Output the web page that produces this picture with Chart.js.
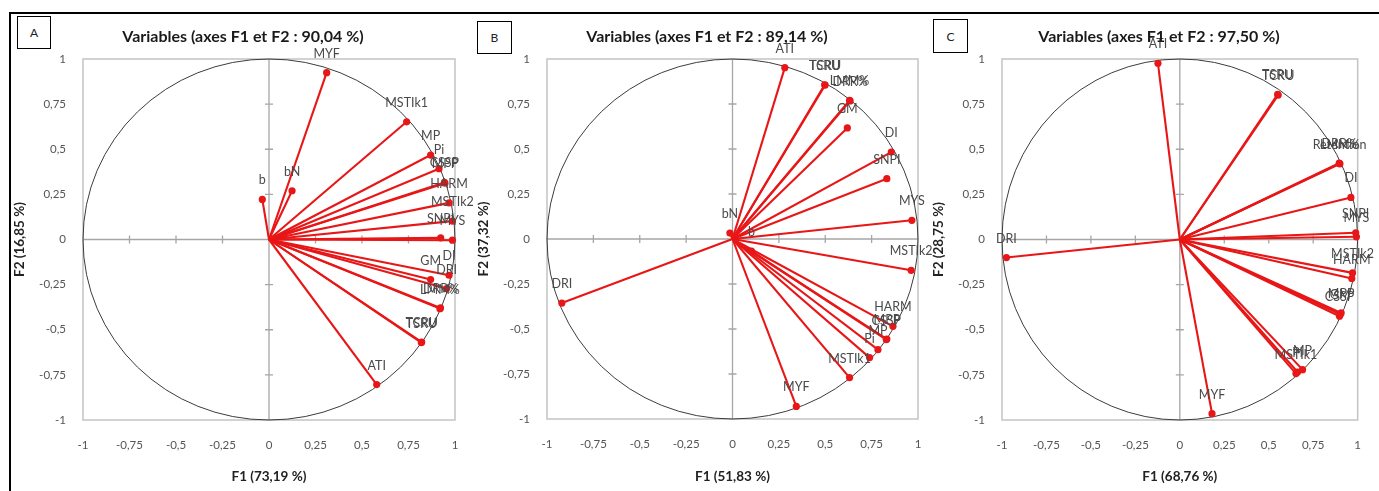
<!DOCTYPE html>
<html>
<head>
<meta charset="utf-8">
<script src="https://cdn.jsdelivr.net/npm/chart.js@4.4.1/dist/chart.umd.min.js"></script>
<style>
html,body{margin:0;padding:0;background:#fff;}
body{width:1379px;height:491px;position:relative;overflow:hidden;font-family:Lato,'Liberation Sans',sans-serif;}
.frameTop{position:absolute;left:9px;top:12px;width:1370px;height:2px;background:#000;}
.frameLeft{position:absolute;left:9px;top:12px;width:2px;height:479px;background:#000;}
.tag{position:absolute;border:1.5px solid #000;background:#fff;font-size:12px;color:#222;display:flex;align-items:center;justify-content:center;box-sizing:border-box;}
canvas{position:absolute;top:0;}
</style>
</head>
<body>
<div class="frameTop"></div>
<div class="frameLeft"></div>
<canvas id="cA"></canvas>
<canvas id="cB"></canvas>
<canvas id="cC"></canvas>
<div class="tag" style="left:17px;top:16px;width:34px;height:33px;">A</div>
<div class="tag" style="left:477px;top:21px;width:35px;height:33px;">B</div>
<div class="tag" style="left:933px;top:19px;width:35px;height:34px;">C</div>
<script>
// ---- Data ----
const tickValues = [-1, -0.75, -0.5, -0.25, 0, 0.25, 0.5, 0.75, 1];
const tickLabels = ['-1', '-0,75', '-0,5', '-0,25', '0', '0,25', '0,5', '0,75', '1'];

const titles = ['Variables (axes F1 et F2 : 90,04 %)', 'Variables (axes F1 et F2 : 89,14 %)', 'Variables (axes F1 et F2 : 97,50 %)'];
const xTitles = ['F1 (73,19 %)', 'F1 (51,83 %)', 'F1 (68,76 %)'];
const yTitles = ['F2 (16,85 %)', 'F2 (37,32 %)', 'F2 (28,75 %)'];

const varsA = ['b','bN','MYF','MSTIk1','MP','Pi','CSSP','MPP','HARM','MSTIk2','SNPI','MYS','DI','GM','DRI','LMM%','DRR%','TSRU','TCRU','ATI'];
const f1A = [-0.036,0.124,0.31,0.74,0.869,0.914,0.943,0.946,0.968,0.986,0.923,0.986,0.968,0.869,0.955,0.919,0.922,0.819,0.821,0.579];
const f2A = [0.222,0.27,0.924,0.652,0.468,0.392,0.316,0.312,0.203,0.102,0.009,-0.004,-0.198,-0.222,-0.272,-0.383,-0.379,-0.571,-0.568,-0.804];

const varsB = ['ATI','TSRU','TCRU','LMM%','DRR%','GM','DI','SNPI','MYS','bN','b','MSTIk2','HARM','CSSP','MPP','MP','Pi','MSTIk1','MYF','DRI'];
const f1B = [0.282,0.497,0.499,0.631,0.634,0.619,0.856,0.832,0.967,-0.014,0.102,0.963,0.865,0.829,0.832,0.784,0.739,0.631,0.344,-0.92];
const f2B = [0.952,0.857,0.855,0.770,0.767,0.617,0.483,0.335,0.104,0.033,-0.067,-0.174,-0.485,-0.559,-0.556,-0.615,-0.659,-0.770,-0.93,-0.356];

const varsC = ['ATI','TSRU','TCRU','Retention','LMM%','DRR%','DI','SNPI','MYS','MSTIk2','HARM','MPP','CSSP','GM','MP','Pi','MSTIk1','MYF','DRI'];
const f1C = [-0.123,0.55,0.553,0.898,0.9,0.896,0.962,0.989,0.993,0.971,0.967,0.907,0.898,0.902,0.69,0.662,0.653,0.181,-0.975];
const f2C = [0.976,0.804,0.8,0.421,0.419,0.423,0.233,0.037,0.015,-0.185,-0.216,-0.407,-0.425,-0.415,-0.721,-0.734,-0.743,-0.965,-0.1];

// ---- Rendering ----
const RED = 'rgb(232,22,22)';
const FONT = "Lato, 'Liberation Sans', sans-serif";
const YW = 72;

const pcaPlugin = {
  id: 'pca',
  beforeDatasetsDraw(chart) {
    const {ctx, chartArea: a, scales: {x, y}} = chart;
    const cx = x.getPixelForValue(0), cy = y.getPixelForValue(0);
    const rx = x.getPixelForValue(1) - cx, ry = cy - y.getPixelForValue(1);
    ctx.save();
    ctx.strokeStyle = '#c4c4c4';
    ctx.lineWidth = 1.5;
    ctx.strokeRect(a.left, a.top, a.right - a.left, a.bottom - a.top);
    ctx.strokeStyle = '#a6a6a6';
    ctx.lineWidth = 1.3;
    ctx.beginPath();
    ctx.moveTo(a.left, cy); ctx.lineTo(a.right, cy);
    ctx.moveTo(cx, a.top); ctx.lineTo(cx, a.bottom);
    tickValues.forEach(v => {
      if (Math.abs(v) === 1 || v === 0) return;
      const px = x.getPixelForValue(v), py = y.getPixelForValue(v);
      ctx.moveTo(px, cy - 4); ctx.lineTo(px, cy + 4);
      ctx.moveTo(cx - 4, py); ctx.lineTo(cx + 4, py);
    });
    ctx.stroke();
    ctx.strokeStyle = '#3c3c3c';
    ctx.lineWidth = 1;
    ctx.beginPath();
    ctx.ellipse(cx, cy, rx, ry, 0, 0, Math.PI * 2);
    ctx.stroke();
    ctx.restore();
  },
  afterDatasetsDraw(chart) {
    const {ctx, scales: {x, y}} = chart;
    const o = chart.options.plugins.pca;
    ctx.save();
    ctx.font = '12.5px ' + FONT;
    ctx.fillStyle = '#4a4a4a';
    ctx.textAlign = 'center';
    ctx.textBaseline = 'middle';
    o.names.forEach((n, i) => {
      ctx.fillText(n, x.getPixelForValue(o.f1[i]), y.getPixelForValue(o.f2[i]) - 19);
    });
    ctx.font = 'bold 16px ' + FONT;
    ctx.fillStyle = '#1a1a1a';
    ctx.fillText(o.title, o.titleX, 37);
    ctx.restore();
  }
};

function makePanel(p) {
  const canvas = document.getElementById(p.id);
  canvas.width = p.w; canvas.height = 491;
  canvas.style.left = p.left + 'px';
  canvas.style.width = p.w + 'px'; canvas.style.height = '491px';
  const plotL = p.plot[0] - p.left, plotR = p.plot[1] - p.left;
  const plotT = p.plot[2], plotB = p.plot[3];
  const datasets = p.names.map((n, i) => ({
    label: n,
    data: [{x: 0, y: 0}, {x: p.f1[i], y: p.f2[i]}],
    showLine: true,
    borderColor: RED,
    borderWidth: 2.1,
    pointRadius: [0, 3.6],
    pointBackgroundColor: RED,
    pointBorderColor: RED,
    pointBorderWidth: 0,
    clip: false
  }));
  const tickFont = {family: FONT, size: 11.5};
  const titleFont = {family: FONT, size: 13.5, weight: 'bold'};
  new Chart(canvas, {
    type: 'scatter',
    data: {datasets},
    options: {
      responsive: false,
      animation: false,
      devicePixelRatio: 1,
      layout: {padding: {left: plotL - YW, right: p.w - plotR, top: plotT, bottom: 0}},
      plugins: {
        legend: {display: false},
        tooltip: {enabled: false},
        pca: {names: p.names, f1: p.f1, f2: p.f2, title: p.title, titleX: p.titleX - p.left}
      },
      scales: {
        x: {
          type: 'linear', min: -1, max: 1,
          grid: {display: false, drawTicks: false},
          border: {display: false},
          ticks: {stepSize: 0.25, autoSkip: false, maxRotation: 0, padding: 18, font: tickFont, color: '#555',
                  callback: (v, i) => tickLabels[i]},
          title: {display: true, text: p.xTitle, font: titleFont, color: '#222', padding: {top: 0, bottom: 6}},
          afterFit: s => { s.height = 491 - plotB; }
        },
        y: {
          type: 'linear', min: -1, max: 1,
          grid: {display: false, drawTicks: false},
          border: {display: false},
          ticks: {stepSize: 0.25, autoSkip: false, padding: 17, font: tickFont, color: '#555',
                  callback: (v, i) => tickLabels[i]},
          title: {display: true, text: p.yTitle, font: titleFont, color: '#222', padding: {top: 1, bottom: 0}},
          afterFit: s => { s.width = YW; }
        }
      }
    },
    plugins: [pcaPlugin]
  });
}

makePanel({id: 'cA', left: 0, w: 480, plot: [83, 455, 59, 420], titleX: 243,
  names: varsA, f1: f1A, f2: f2A, title: titles[0], xTitle: xTitles[0], yTitle: yTitles[0]});
makePanel({id: 'cB', left: 470, w: 470, plot: [547, 918, 59, 419], titleX: 707,
  names: varsB, f1: f1B, f2: f2B, title: titles[1], xTitle: xTitles[1], yTitle: yTitles[1]});
makePanel({id: 'cC', left: 920, w: 459, plot: [1002, 1369, 59, 420], titleX: 1159,
  names: varsC, f1: f1C, f2: f2C, title: titles[2], xTitle: xTitles[2], yTitle: yTitles[2]});
</script>
</body>
</html>
